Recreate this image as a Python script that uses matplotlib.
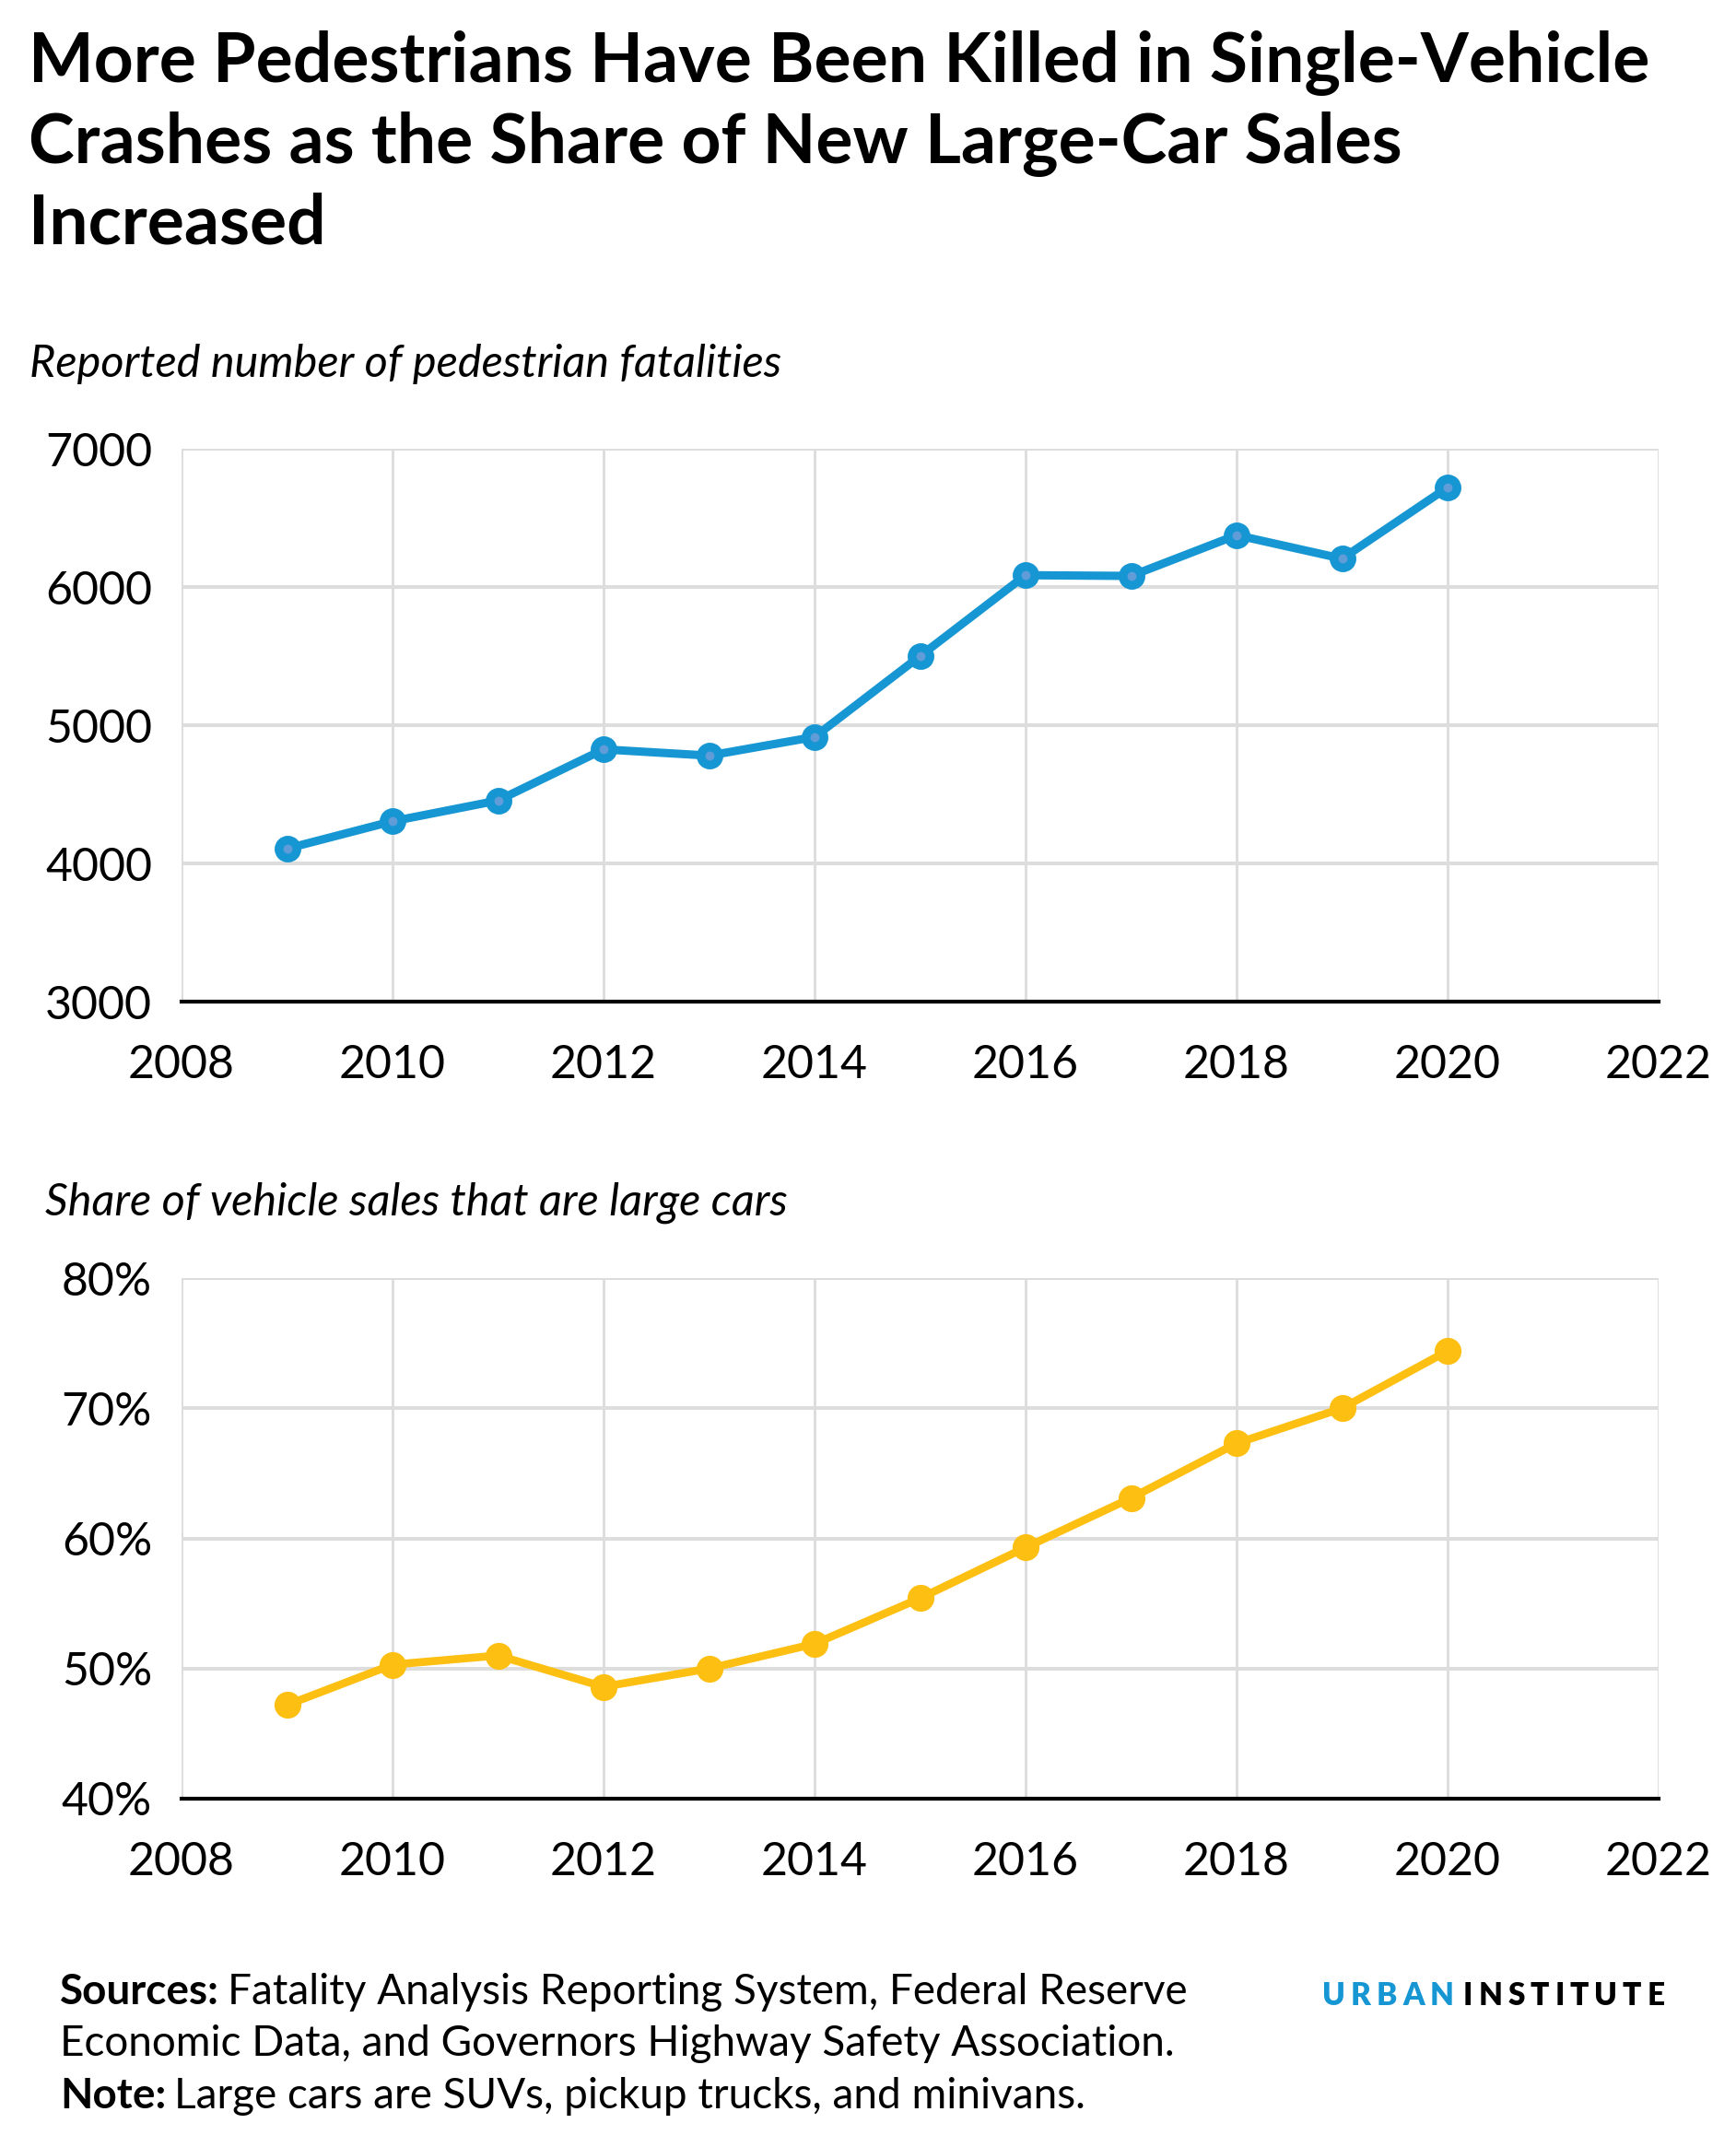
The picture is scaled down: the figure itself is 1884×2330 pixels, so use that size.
import matplotlib.pyplot as plt

plt.rcParams['font.family'] = ['Lato', 'DejaVu Sans']

years = [2009, 2010, 2011, 2012, 2013, 2014, 2015, 2016, 2017, 2018, 2019, 2020]
fatalities = [4107, 4305, 4455, 4825, 4780, 4915, 5500, 6085, 6080, 6375, 6205, 6720]
large_share = [47.2, 50.3, 51.0, 48.6, 50.0, 51.9, 55.4, 59.3, 63.1, 67.3, 70.0, 74.4]

x_ticks = [2008, 2010, 2012, 2014, 2016, 2018, 2020, 2022]
fat_ticks = [3000, 4000, 5000, 6000, 7000]
share_ticks = [40, 50, 60, 70, 80]

BLUE = '#1696d2'
YELLOW = '#fdbf11'
GRID = '#dddddd'

W, H = 1884, 2330
fig = plt.figure(figsize=(W / 100, H / 100), dpi=100)


def style_ax(ax, yticks, ylabels):
    ax.set_xlim(2008, 2022)
    ax.set_xticks(x_ticks)
    ax.set_xticklabels([str(t) for t in x_ticks])
    ax.set_ylim(yticks[0], yticks[-1])
    ax.set_yticks(yticks)
    ax.set_yticklabels(ylabels)
    ax.grid(axis='y', color=GRID, lw=2.9)
    ax.grid(axis='x', color=GRID, lw=2.1)
    ax.set_axisbelow(True)
    for s in ['left', 'top', 'right']:
        ax.spines[s].set_visible(False)
    ax.spines['bottom'].set_color('black')
    ax.spines['bottom'].set_linewidth(3)
    ax.spines['bottom'].set_zorder(5)
    ax.tick_params(axis='both', length=0, labelsize=36, colors='black')
    ax.tick_params(axis='x', pad=33)
    ax.tick_params(axis='y', pad=23)


# top chart
ax1 = fig.add_axes([197 / W, 1 - 1087 / H, 1603 / W, 600 / H])
ax1.plot(years, fatalities, color=BLUE, lw=6.5, marker='o', markersize=14,
         markerfacecolor='#5f9cd8', markeredgecolor=BLUE, markeredgewidth=6.8,
         zorder=3, clip_on=False)
style_ax(ax1, fat_ticks, [str(t) for t in fat_ticks])

# bottom chart
ax2 = fig.add_axes([197 / W, 1 - 1952 / H, 1603 / W, 565 / H])
ax2.plot(years, large_share, color=YELLOW, lw=6.2, marker='o', markersize=21,
         markerfacecolor=YELLOW, markeredgewidth=0, zorder=3, clip_on=False)
style_ax(ax2, share_ticks, [f'{t}%' for t in share_ticks])

# titles
fig.text(31 / W, 1 - 33 / H,
         'More Pedestrians Have Been Killed in Single-Vehicle\n'
         'Crashes as the Share of New Large-Car Sales\nIncreased',
         fontsize=54, fontweight='bold', va='top', ha='left', linespacing=1.3)
fig.text(32 / W, 1 - 395 / H, 'Reported number of pedestrian fatalities',
         fontsize=35, style='italic', va='center', ha='left')
fig.text(49 / W, 1 - 1305 / H, 'Share of vehicle sales that are large cars',
         fontsize=35, style='italic', va='center', ha='left')

# footer
fy = [2175, 2231, 2288]
t = fig.text(65 / W, 1 - fy[0] / H, 'Sources:', fontsize=33, fontweight='bold', va='baseline')
fig.canvas.draw()
r = fig.canvas.get_renderer()
bb = t.get_window_extent(r)
fig.text((bb.x1 + 9) / W, 1 - fy[0] / H,
         'Fatality Analysis Reporting System, Federal Reserve', fontsize=33, va='baseline')
fig.text(65 / W, 1 - fy[1] / H,
         'Economic Data, and Governors Highway Safety Association.', fontsize=33, va='baseline')
t = fig.text(65 / W, 1 - fy[2] / H, 'Note:', fontsize=33, fontweight='bold', va='baseline')
bb = t.get_window_extent(r)
fig.text((bb.x1 + 9) / W, 1 - fy[2] / H,
         'Large cars are SUVs, pickup trucks, and minivans.', fontsize=33, va='baseline')

# logo, letter-spaced
x = 1435
for word, col in [('URBAN', BLUE), ('INSTITUTE', 'black')]:
    for ch in word:
        t = fig.text(x / W, 1 - 2176 / H, ch, fontsize=24, fontweight='heavy',
                     color=col, va='baseline', ha='left')
        x = t.get_window_extent(r).x1 + 6
    x += 4

fig.savefig('out.png', dpi=100, facecolor='white')
